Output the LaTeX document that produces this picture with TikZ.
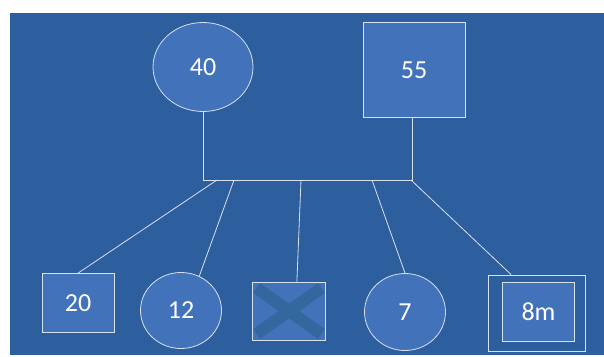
\documentclass[tikz,border=0pt]{standalone}
\usepackage{fontspec}
\setmainfont{Carlito}
\usepackage{tikz}
\usetikzlibrary{
  shapes.geometric
}
\definecolor{slidebg}{RGB}{45,94,158}
\definecolor{shapefill}{RGB}{66,115,186}
\definecolor{edgeline}{RGB}{215,225,240}
\definecolor{crossblue}{RGB}{50,104,158}
\tikzset{
  oval/.style={
    ellipse, draw=edgeline, line width=0.8pt, fill=shapefill,
    inner sep=0pt, text=white, font=\fontsize{26}{30}\selectfont
  },
  box/.style={
    rectangle, draw=edgeline, line width=0.8pt, fill=shapefill,
    inner sep=0pt, text=white, font=\fontsize{26}{30}\selectfont
  },
  frame/.style={
    rectangle, draw=edgeline, line width=0.8pt, inner sep=0pt
  },
  wire/.style={draw=edgeline, line width=0.8pt}
}

\begin{document}
\begin{tikzpicture}[x=1pt, y=-1pt]
  \useasboundingbox (0,0) rectangle (604,356);
  \fill[slidebg] (10,13) rectangle (604,355);

  % parents
  \node[oval, minimum width=100pt, minimum height=89pt] (n40) at (203,67) {40};
  \node[box, minimum width=102pt, minimum height=95pt] (n55) at (414,70) {55};

  % children
  \node[box, minimum width=72pt, minimum height=59pt] (n20) at (78,303) {20};
  \node[oval, minimum width=81pt, minimum height=76pt] (n12) at (181,310.5) {12};
  \node[box, minimum width=73pt, minimum height=58pt,
        path picture={
          \draw[crossblue, line width=12pt]
            ([shift={(4pt,-6pt)}]path picture bounding box.north west) -- ([shift={(-4pt,6pt)}]path picture bounding box.south east)
            ([shift={(4pt,6pt)}]path picture bounding box.south west) -- ([shift={(-4pt,-6pt)}]path picture bounding box.north east);
        }] (nx) at (289,311) {};
  \node[oval, minimum width=81pt, minimum height=77pt] (n7) at (405,312) {7};
  \node[frame, minimum width=97pt, minimum height=76pt] (n8mframe) at (537,313) {};
  \node[box, minimum width=72pt, minimum height=59pt] (n8m) at (538.5,312) {8m};

  % bus
  \coordinate (busL) at (203,180);
  \coordinate (busR) at (412,180);
  \coordinate (b1) at (217,180);
  \coordinate (b2) at (234,180);
  \coordinate (b3) at (301,180);
  \coordinate (b4) at (372,180);
  \coordinate (b5) at (411,180);

  \draw[wire] (n40.south) -- (busL) -- (busR) -- (busR |- n55.south);

  \foreach \b/\t in {b1/n20.north, b2/n12.62, b3/nx.75, b4/n7.north, b5/n8mframe.124}
    \draw[wire] (\b) -- (\t);
\end{tikzpicture}
\end{document}
